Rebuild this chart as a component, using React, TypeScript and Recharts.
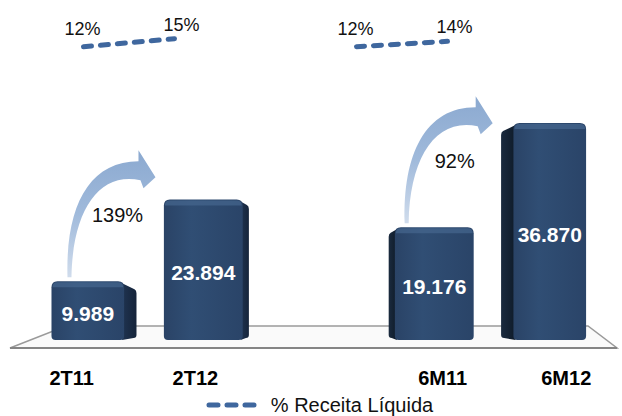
import React from "react";
import {
  ComposedChart,
  Bar,
  Line,
  XAxis,
  YAxis,
  Legend,
  LabelList,
  ReferenceArea,
} from "recharts";

// ---- data ----
const CATEGORIES = ["2T11", "2T12", " ", "6M11", "6M12"];
const VALUES = [9989, 23894, null, 19176, 36870];
const PCT_RECEITA = [12, 15, null, 12, 14];
const GROWTH = ["139%", null, null, "92%", null];
const SERIES_NAME = "% Receita Líquida";

const data = CATEGORIES.map((cat, i) => ({
  cat,
  valor: VALUES[i],
  pct: PCT_RECEITA[i],
  growth: GROWTH[i],
}));

// ---- layout / style ----
const W = 622;
const H = 416;
const MARGIN = { top: 20, right: 22, left: 38, bottom: 9 };
const CENTER_X = MARGIN.left + (W - MARGIN.left - MARGIN.right) / 2;
const FONT = "'Liberation Sans', Arial, Helvetica, sans-serif";
const LINE_COLOR = "#3F679E";

const fmt = (v: number) =>
  String(Math.round(v)).replace(/\B(?=(\d{3})+(?!\d))/g, ".");

function geom(x: number, width: number) {
  const cx = x + width / 2;
  const d = Math.abs(cx - CENTER_X) * 0.055;
  const sideRight = cx < CENTER_X;
  const fx = sideRight ? x : x + d;
  const fw = width - d;
  return { d, sideRight, fx, fw };
}

const Bar3D = (props: any) => {
  const { x, y, width, height } = props;
  if (height == null || height <= 0 || !isFinite(y)) return null;
  const { d, sideRight, fx, fw } = geom(x, width);
  const bottom = y + height;
  const r = 6;
  const front = `M ${fx},${bottom - 4} L ${fx},${y + r} Q ${fx},${y} ${fx + r},${y} L ${fx + fw - r},${y} Q ${fx + fw},${y} ${fx + fw},${y + r} L ${fx + fw},${bottom - 4} Q ${fx + fw},${bottom} ${fx + fw - 4},${bottom} L ${fx + 4},${bottom} Q ${fx},${bottom} ${fx},${bottom - 4} Z`;
  let side = "";
  if (d > 0.5) {
    if (sideRight) {
      const ex = x + width;
      side = `M ${fx + fw - 2},${y + 2} L ${ex - 2},${y + 3 + d * 0.4} Q ${ex},${y + 4 + d * 0.4} ${ex},${y + 7 + d * 0.4} L ${ex},${bottom - 5} Q ${ex},${bottom - 2} ${ex - 3},${bottom - 2} L ${fx + fw - 2},${bottom} Z`;
    } else {
      side = `M ${fx + 2},${y + 2} L ${x + 2},${y + 3 + d * 0.4} Q ${x},${y + 4 + d * 0.4} ${x},${y + 7 + d * 0.4} L ${x},${bottom - 5} Q ${x},${bottom - 2} ${x + 3},${bottom - 2} L ${fx + 2},${bottom} Z`;
    }
  }
  return (
    <g>
      {side && <path d={side} fill={sideRight ? "url(#sideR)" : "url(#sideL)"} />}
      <path d={front} fill="url(#front)" />
      <path
        d={`M ${fx + 1},${y + 6} Q ${fx + 1},${y + 1} ${fx + 6},${y + 1} L ${fx + fw - 6},${y + 1} Q ${fx + fw - 1},${y + 1} ${fx + fw - 1},${y + 6} Z`}
        fill="#46668E"
        opacity={0.7}
      />
    </g>
  );
};

const ValueLabel = (props: any) => {
  const { x, y, width, height, value } = props;
  if (value == null) return null;
  const { fx, fw } = geom(x, width);
  return (
    <text
      x={fx + fw / 2}
      y={y + height / 2 + 3}
      textAnchor="middle"
      dominantBaseline="central"
      fill="#FFFFFF"
      fontFamily={FONT}
      fontWeight="bold"
      fontSize={21}
    >
      {fmt(value)}
    </text>
  );
};

const GrowthArrow = (props: any) => {
  const { x, y, value } = props;
  if (!value) return null;
  const tx = x + 17;
  const ty = y - 4;
  const p =
    "M -1,0 C -3,-70 20,-116 70,-116 L 70,-127 L 87,-100 L 75,-89 L 72,-97 C 30,-106 4,-66 3,0 Z";
  return (
    <g>
      <path d={p} transform={`translate(${tx},${ty})`} fill="url(#arrow)" />
      <text
        x={x + 66}
        y={y - 66}
        textAnchor="middle"
        dominantBaseline="central"
        fill="#111111"
        fontFamily={FONT}
        fontSize={20}
      >
        {value}
      </text>
    </g>
  );
};

const PctLabel = (props: any) => {
  const { x, y, value, index } = props;
  if (value == null) return null;
  const isStart = index === 0 || data[index - 1].pct == null;
  return (
    <text
      x={isStart ? x - 1 : x + 7}
      y={isStart ? y - 12 : y - 8}
      textAnchor="middle"
      fill="#111111"
      fontFamily={FONT}
      fontSize={18}
    >
      {value}%
    </text>
  );
};

const CatTick = (props: any) => {
  const { x, y, payload } = props;
  if (!payload || !String(payload.value).trim()) return null;
  const tx = x + (x - CENTER_X) * 0.1;
  return (
    <text
      x={tx}
      y={y + 15}
      textAnchor="middle"
      fill="#000000"
      fontFamily={FONT}
      fontWeight="bold"
      fontSize={20}
    >
      {payload.value}
    </text>
  );
};

const Floor = (props: any) => {
  const { x, y, width, height } = props;
  const b = y + height;
  const back = b - 14;
  const front = b + 8;
  const lb = x + 28;
  const lf = x - 28;
  const rb = x + width - 12;
  const rf = x + width + 17;
  return (
    <g>
      <path
        d={`M ${lb},${back} L ${rb},${back} L ${rf},${front} L ${lf},${front} Z`}
        fill="#FAFAFA"
        stroke="#9A9A9A"
        strokeWidth={1.5}
      />
      <line x1={lf} y1={front} x2={rf} y2={front} stroke="#858585" strokeWidth={2} />
    </g>
  );
};

const LegendContent = (props: any) => {
  const items = (props.payload || []).filter((p: any) => p.type !== "none");
  return (
    <div
      style={{
        display: "flex",
        justifyContent: "center",
        alignItems: "center",
        height: 22,
        fontFamily: FONT,
        fontSize: 20,
        color: "#111",
      }}
    >
      {items.map((it: any) => (
        <div key={it.value} style={{ display: "flex", alignItems: "center" }}>
          <svg width={58} height={10} style={{ marginRight: 8 }}>
            <line
              x1={4}
              y1={5}
              x2={54}
              y2={5}
              stroke={LINE_COLOR}
              strokeWidth={5}
              strokeDasharray="9 9"
              strokeLinecap="round"
            />
          </svg>
          <span>{it.value}</span>
        </div>
      ))}
    </div>
  );
};

export default function App() {
  return (
    <div style={{ position: "absolute", left: 0, top: 0, width: W, height: H, background: "#fff" }}>
      <ComposedChart width={W} height={H} data={data} margin={MARGIN} barCategoryGap="12%">
        <defs>
          <linearGradient id="front" x1="0" y1="0" x2="1" y2="0">
            <stop offset="0" stopColor="#2A4366" />
            <stop offset="0.35" stopColor="#304E74" />
            <stop offset="1" stopColor="#2A4468" />
          </linearGradient>
          <linearGradient id="sideR" x1="0" y1="0" x2="1" y2="0">
            <stop offset="0" stopColor="#1F3350" />
            <stop offset="1" stopColor="#15243A" />
          </linearGradient>
          <linearGradient id="sideL" x1="0" y1="0" x2="1" y2="0">
            <stop offset="0" stopColor="#1A2A3E" />
            <stop offset="1" stopColor="#0F1B29" />
          </linearGradient>
          <linearGradient id="arrow" x1="0" y1="1" x2="0" y2="0">
            <stop offset="0" stopColor="#D0DCEC" />
            <stop offset="0.5" stopColor="#A0BADB" />
            <stop offset="1" stopColor="#8BA9D0" />
          </linearGradient>
        </defs>
        <XAxis
          xAxisId="v"
          dataKey="cat"
          axisLine={false}
          tickLine={false}
          tickSize={0}
          tickMargin={0}
          height={45}
          interval={0}
          tick={<CatTick />}
        />
        <XAxis xAxisId="p" dataKey="cat" hide padding={{ left: 0, right: 107 }} />
        <YAxis yAxisId="v" hide domain={[0, 54400]} />
        <YAxis yAxisId="p" hide domain={[-98, 22]} />
        <ReferenceArea
          xAxisId="v"
          yAxisId="v"
          x1={CATEGORIES[0]}
          x2={CATEGORIES[CATEGORIES.length - 1]}
          shape={<Floor />}
        />
        <Bar
          xAxisId="v"
          yAxisId="v"
          dataKey="valor"
          shape={<Bar3D />}
          legendType="none"
          isAnimationActive={false}
        >
          <LabelList dataKey="valor" content={<ValueLabel />} />
          <LabelList dataKey="growth" content={<GrowthArrow />} />
        </Bar>
        <Line
          xAxisId="p"
          yAxisId="p"
          dataKey="pct"
          name={SERIES_NAME}
          stroke={LINE_COLOR}
          strokeWidth={5}
          strokeDasharray="8 9"
          strokeLinecap="round"
          dot={false}
          activeDot={false}
          connectNulls={false}
          isAnimationActive={false}
        >
          <LabelList dataKey="pct" content={<PctLabel />} />
        </Line>
        <Legend
          verticalAlign="bottom"
          height={22}
          wrapperStyle={{ bottom: 0 }}
          content={<LegendContent />}
        />
      </ComposedChart>
    </div>
  );
}
